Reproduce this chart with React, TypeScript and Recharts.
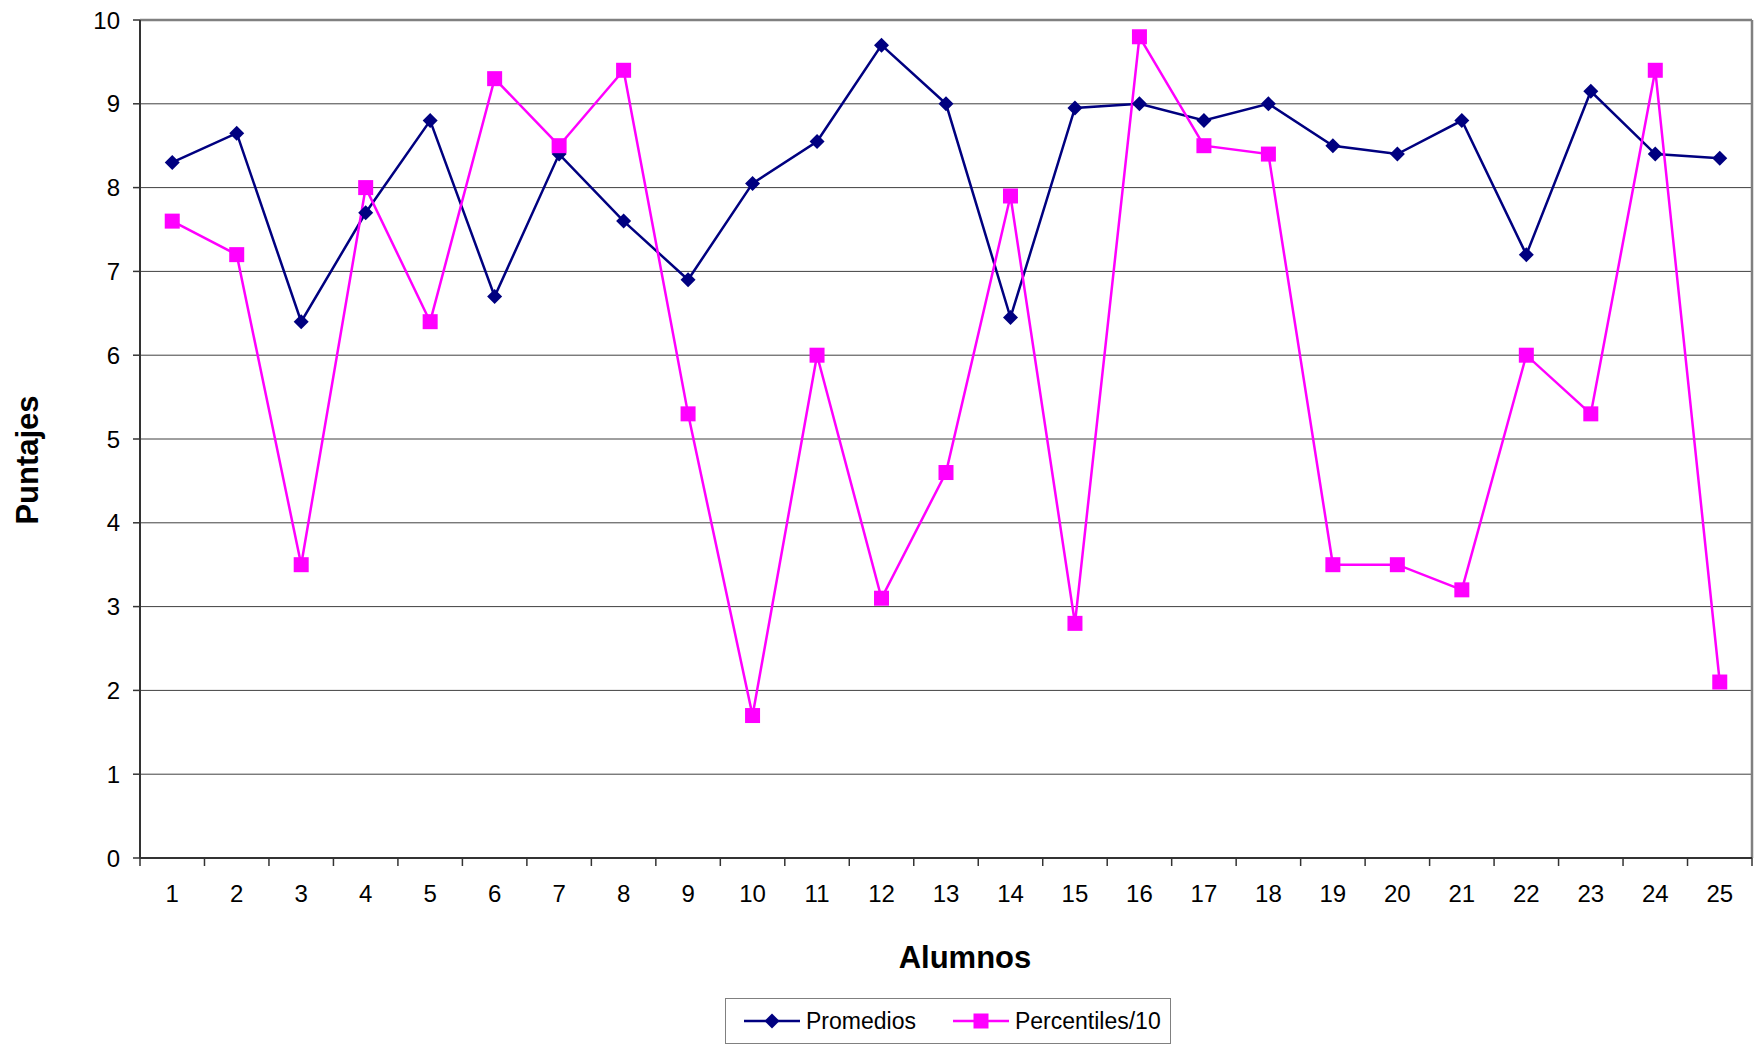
import React from 'react';
import { LineChart, Line, XAxis, YAxis, CartesianGrid, Legend, ReferenceLine, Label } from 'recharts';

const alumnos = [1, 2, 3, 4, 5, 6, 7, 8, 9, 10, 11, 12, 13, 14, 15, 16, 17, 18, 19, 20, 21, 22, 23, 24, 25];
const promedios = [8.3, 8.65, 6.4, 7.7, 8.8, 6.7, 8.4, 7.6, 6.9, 8.05, 8.55, 9.7, 9.0, 6.45, 8.95, 9.0, 8.8, 9.0, 8.5, 8.4, 8.8, 7.2, 9.15, 8.4, 8.35];
const percentiles = [7.6, 7.2, 3.5, 8.0, 6.4, 9.3, 8.5, 9.4, 5.3, 1.7, 6.0, 3.1, 4.6, 7.9, 2.8, 9.8, 8.5, 8.4, 3.5, 3.5, 3.2, 6.0, 5.3, 9.4, 2.1];
const yTicks = [0, 1, 2, 3, 4, 5, 6, 7, 8, 9, 10];
const xBoundaryTicks = [0.5, 1.5, 2.5, 3.5, 4.5, 5.5, 6.5, 7.5, 8.5, 9.5, 10.5, 11.5, 12.5, 13.5, 14.5, 15.5, 16.5, 17.5, 18.5, 19.5, 20.5, 21.5, 22.5, 23.5, 24.5, 25.5];
const seriesNames = ['Promedios', 'Percentiles/10'];
const seriesColors = ['#000080', '#FF00FF'];

const data = alumnos.map((a, i) => ({ alumno: a, promedios: promedios[i], percentiles: percentiles[i] }));

const FONT = '"Liberation Sans", Arial, Helvetica, sans-serif';

const XTick = (props: any) => {
  const { x, y, payload } = props;
  const v = payload.value;
  if (Number.isInteger(v)) {
    return (
      <text x={x} y={y} dy="0.71em" textAnchor="middle" fontSize={24} fontFamily={FONT} fill="#000">
        {v}
      </text>
    );
  }
  return <line x1={x} x2={x} y1={y - 27} y2={y - 19} stroke="#333" strokeWidth={1.5} />;
};

const Diamond = (props: any) => {
  const { cx, cy, index } = props;
  if (cx == null || cy == null) return <g key={`d${index}`} />;
  const r = 7.5;
  return <path key={`d${index}`} d={`M${cx},${cy - r}L${cx + r},${cy}L${cx},${cy + r}L${cx - r},${cy}Z`} fill={seriesColors[0]} />;
};

const Square = (props: any) => {
  const { cx, cy, index } = props;
  if (cx == null || cy == null) return <g key={`s${index}`} />;
  const r = 7.5;
  return <rect key={`s${index}`} x={cx - r} y={cy - r} width={2 * r} height={2 * r} fill={seriesColors[1]} />;
};

const LegendBox = () => (
  <div
    style={{
      boxSizing: 'border-box',
      width: 446,
      height: 46,
      border: '1.5px solid #808080',
      background: '#fff',
      display: 'flex',
      alignItems: 'center',
      fontFamily: FONT,
      fontSize: 23,
      color: '#000',
      paddingLeft: 18,
    }}
  >
    <svg width={56} height={20} style={{ display: 'block' }}>
      <line x1={0} x2={56} y1={10} y2={10} stroke={seriesColors[0]} strokeWidth={2.5} />
      <path d="M28,2.5L35.5,10L28,17.5L20.5,10Z" fill={seriesColors[0]} />
    </svg>
    <span style={{ marginLeft: 6 }}>{seriesNames[0]}</span>
    <svg width={56} height={20} style={{ display: 'block', marginLeft: 37 }}>
      <line x1={0} x2={56} y1={10} y2={10} stroke={seriesColors[1]} strokeWidth={2.5} />
      <rect x={20.5} y={2.5} width={15} height={15} fill={seriesColors[1]} />
    </svg>
    <span style={{ marginLeft: 6 }}>{seriesNames[1]}</span>
  </div>
);

export default function App() {
  return (
    <div style={{ width: 1760, height: 1044, position: 'relative', background: '#fff' }}>
      <style>{`body{margin:0;background:#fff;}`}</style>
      <LineChart width={1760} height={1044} data={data} margin={{ top: 20, right: 8, left: 0, bottom: 0 }}>
        <CartesianGrid horizontal vertical={false} stroke="#404040" strokeWidth={1} />
        <XAxis
          dataKey="alumno"
          type="number"
          domain={[0.5, 25.5]}
          ticks={[...alumnos, ...xBoundaryTicks]}
          interval={0}
          allowDataOverflow
          height={186}
          tickSize={8}
          tickMargin={19}
          tickLine={false}
          tick={<XTick />}
          axisLine={{ stroke: '#333', strokeWidth: 2 }}
        >
          <Label
            content={() => (
              <text x={965} y={957} textAnchor="middle" dominantBaseline="central" fontSize={31} fontWeight="bold" fontFamily={FONT} fill="#000">
                Alumnos
              </text>
            )}
          />
        </XAxis>
        <YAxis
          type="number"
          domain={[0, 10]}
          ticks={yTicks}
          interval={0}
          width={140}
          tickSize={7}
          tickMargin={13}
          tick={{ fontSize: 24, fontFamily: FONT, fill: '#000' }}
          tickLine={{ stroke: '#333', strokeWidth: 1.5 }}
          axisLine={{ stroke: '#333', strokeWidth: 2 }}
        >
          <Label
            content={() => (
              <text
                x={27}
                y={460}
                transform="rotate(-90 27 460)"
                textAnchor="middle"
                dominantBaseline="central"
                fontSize={31}
                fontWeight="bold"
                fontFamily={FONT}
                fill="#000"
              >
                Puntajes
              </text>
            )}
          />
        </YAxis>
        <ReferenceLine y={10} stroke="#808080" strokeWidth={2.5} ifOverflow="extendDomain" />
        <ReferenceLine x={25.5} stroke="#808080" strokeWidth={2.5} ifOverflow="extendDomain" />
        <Line
          type="linear"
          dataKey="promedios"
          name={seriesNames[0]}
          stroke={seriesColors[0]}
          strokeWidth={2.5}
          dot={<Diamond />}
          activeDot={false}
          isAnimationActive={false}
        />
        <Line
          type="linear"
          dataKey="percentiles"
          name={seriesNames[1]}
          stroke={seriesColors[1]}
          strokeWidth={2.5}
          dot={<Square />}
          activeDot={false}
          isAnimationActive={false}
        />
        <Legend
          layout="horizontal"
          verticalAlign="middle"
          align="center"
          content={<LegendBox />}
          wrapperStyle={{ position: 'absolute', top: 998, left: 725, width: 446, height: 46 }}
        />
      </LineChart>
    </div>
  );
}
